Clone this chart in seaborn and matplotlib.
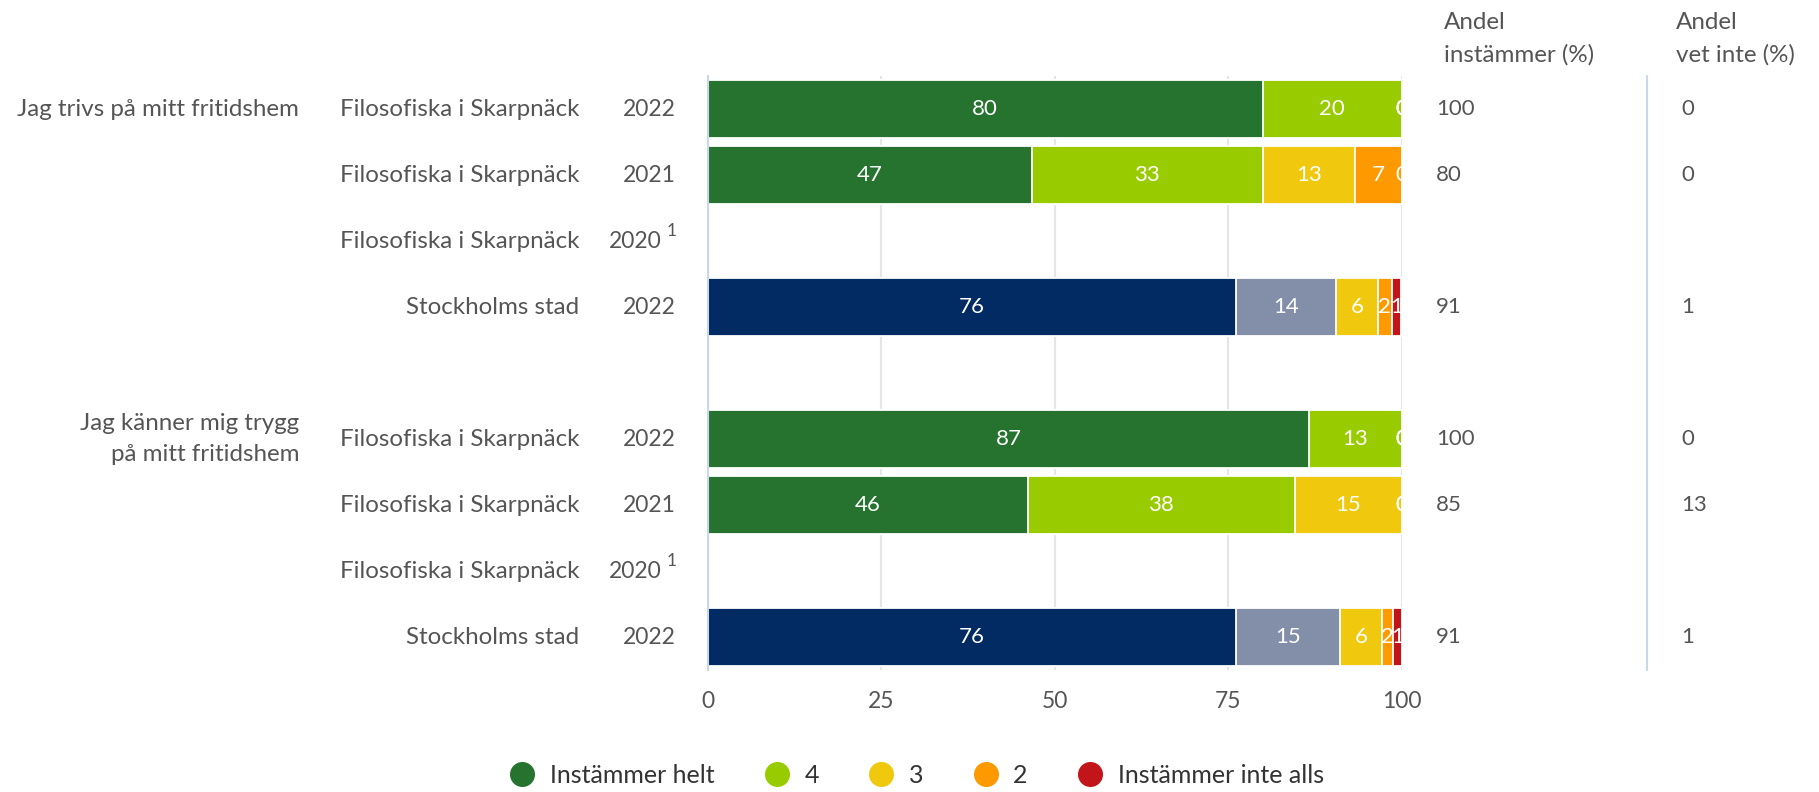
import numpy as np
import pandas as pd
import seaborn as sns
import matplotlib.pyplot as plt
from matplotlib.lines import Line2D
from matplotlib.transforms import blended_transform_factory

# rows of the chart, top to bottom ("gap" is the empty row between the questions)
row_ids = ["t22", "t21", "t20", "tsth", "gap", "k22", "k21", "k20", "ksth"]
data_rows = ["t22", "t21", "t20", "tsth", "k22", "k21", "k20", "ksth"]
units = ["Filosofiska i Skarpnäck", "Filosofiska i Skarpnäck", "Filosofiska i Skarpnäck", "Stockholms stad",
         "Filosofiska i Skarpnäck", "Filosofiska i Skarpnäck", "Filosofiska i Skarpnäck", "Stockholms stad"]
years = ["2022", "2021", "2020", "2022", "2022", "2021", "2020", "2022"]
footnote = [False, False, True, False, False, False, True, False]
is_city = [False, False, False, True, False, False, False, True]
questions = ["Jag trivs på mitt fritidshem", "Jag känner mig trygg\npå mitt fritidshem"]

categories = ["Instämmer helt", "4", "3", "2", "Instämmer inte alls"]
helt = [80.0, 46.7, None, 76.1, 86.7, 46.2, None, 76.1]
fyra = [20.0, 33.3, None, 14.4, 13.3, 38.4, None, 15.0]
tre = [0.0, 13.3, None, 6.1, 0.0, 15.4, None, 6.1]
tva = [0.0, 6.7, None, 2.0, 0.0, 0.0, None, 1.6]
ett = [0.0, 0.0, None, 1.3, 0.0, 0.0, None, 1.3]
andel_instammer = [100, 80, None, 91, 100, 85, None, 91]
andel_vet_inte = [0, 0, None, 1, 0, 13, None, 1]

school_colors = ["#267330", "#99cc00", "#f0c80d", "#fe9a00", "#c1151a"]
city_colors = ["#022b63", "#838ea8", "#f0c80d", "#fe9a00", "#c1151a"]

TEXT = "#555555"
AXIS = "#ccd6eb"
FS = 17.4

sns.set_style("white")
plt.rcParams["font.family"] = ["Lato", "DejaVu Sans"]

df = pd.DataFrame({"row": data_rows, "city": is_city})
layers = [helt, fyra, tre, tva, ett]
for k, vals in enumerate(layers):
    df[f"v{k}"] = vals
df = df.dropna().reset_index(drop=True)
for k in range(5):
    df[f"c{k}"] = df[[f"v{j}" for j in range(k + 1)]].sum(axis=1)

fig = plt.figure(figsize=(18.19, 7.92), dpi=100)
ax = fig.add_axes([0.389, 0.154, 0.3815, 0.7496])

# stacked bars: draw cumulative totals from the back to the front
for k in reversed(range(5)):
    for city, group in df.groupby("city"):
        col = city_colors[k] if city else school_colors[k]
        sns.barplot(data=group, x=f"c{k}", y="row", order=row_ids, orient="y",
                    color=col, saturation=1, width=0.88, errorbar=None,
                    edgecolor="white", linewidth=1.3, ax=ax)

# segment labels
for _, r in df.iterrows():
    pos = row_ids.index(r["row"])
    start = 0.0
    for k in range(5):
        v = r[f"v{k}"]
        ax.text(start + v / 2, pos, f"{round(v)}", ha="center", va="center",
                color="white", fontsize=16, clip_on=True)
        start += v

ax.set_xlim(0, 100)
ax.set_ylim(8.5, -0.5)
ax.set_xlabel("")
ax.set_ylabel("")
ax.set_xticks([0, 25, 50, 75, 100])
ax.set_yticks(np.arange(-0.5, 9, 1))
ax.set_yticklabels([])
ax.tick_params(axis="x", length=0, pad=15, labelsize=16.5, labelcolor=TEXT)
ax.tick_params(axis="y", length=10, width=1.5, color=AXIS, direction="out")
ax.grid(axis="x", color="#e6e6e6", linewidth=1.5)
ax.grid(axis="y", visible=False)
ax.set_axisbelow(True)
for side in ["top", "right", "bottom"]:
    ax.spines[side].set_visible(False)
ax.spines["left"].set_color(AXIS)
ax.spines["left"].set_linewidth(1.5)

# labels left of the plot and value columns on the right
tr = blended_transform_factory(fig.transFigure, ax.transData)
for i, rid in enumerate(data_rows):
    pos = row_ids.index(rid)
    ax.text(0.3185, pos, units[i], transform=tr, ha="right", va="center",
            fontsize=FS, color=TEXT)
    if footnote[i]:
        ax.text(0.3640, pos, years[i], transform=tr, ha="right", va="center",
                fontsize=16.5, color=TEXT)
        ax.text(0.3665, pos - 0.16, "1", transform=tr, ha="left", va="center",
                fontsize=12.5, color=TEXT)
    else:
        ax.text(0.3715, pos, years[i], transform=tr, ha="right", va="center",
                fontsize=16.5, color=TEXT)
    if andel_instammer[i] is not None:
        ax.text(0.7895, pos, f"{andel_instammer[i]}", transform=tr, ha="left",
                va="center", fontsize=16, color=TEXT)
        ax.text(0.9245, pos, f"{andel_vet_inte[i]}", transform=tr, ha="left",
                va="center", fontsize=16, color=TEXT)

ax.text(0.1645, 0, questions[0], transform=tr, ha="right", va="center",
        fontsize=FS, color=TEXT)
q2a, q2b = questions[1].split("\n")
ax.text(0.1645, 4.76, q2a, transform=tr, ha="right", va="center", fontsize=FS, color=TEXT)
ax.text(0.1645, 5.23, q2b, transform=tr, ha="right", va="center", fontsize=FS, color=TEXT)

ax.plot([0.9056, 0.9056], [-0.5, 8.5], transform=tr, color=AXIS,
        linewidth=1.5, clip_on=False)

fig.text(0.794, 0.972, "Andel", ha="left", va="center", fontsize=FS, color=TEXT)
fig.text(0.794, 0.931, "instämmer (%)", ha="left", va="center", fontsize=FS, color=TEXT)
fig.text(0.9216, 0.972, "Andel", ha="left", va="center", fontsize=FS, color=TEXT)
fig.text(0.9216, 0.931, "vet inte (%)", ha="left", va="center", fontsize=FS, color=TEXT)

handles = [Line2D([], [], marker="o", linestyle="", markersize=17,
                  markerfacecolor=c, markeredgecolor=c) for c in school_colors]
fig.legend(handles, categories, loc="center", bbox_to_anchor=(0.504, 0.021),
           ncol=5, frameon=False, fontsize=18, labelcolor="#333333",
           handlelength=1.0, handletextpad=0.6, columnspacing=2.0)

fig.savefig("out.png", dpi=100)
